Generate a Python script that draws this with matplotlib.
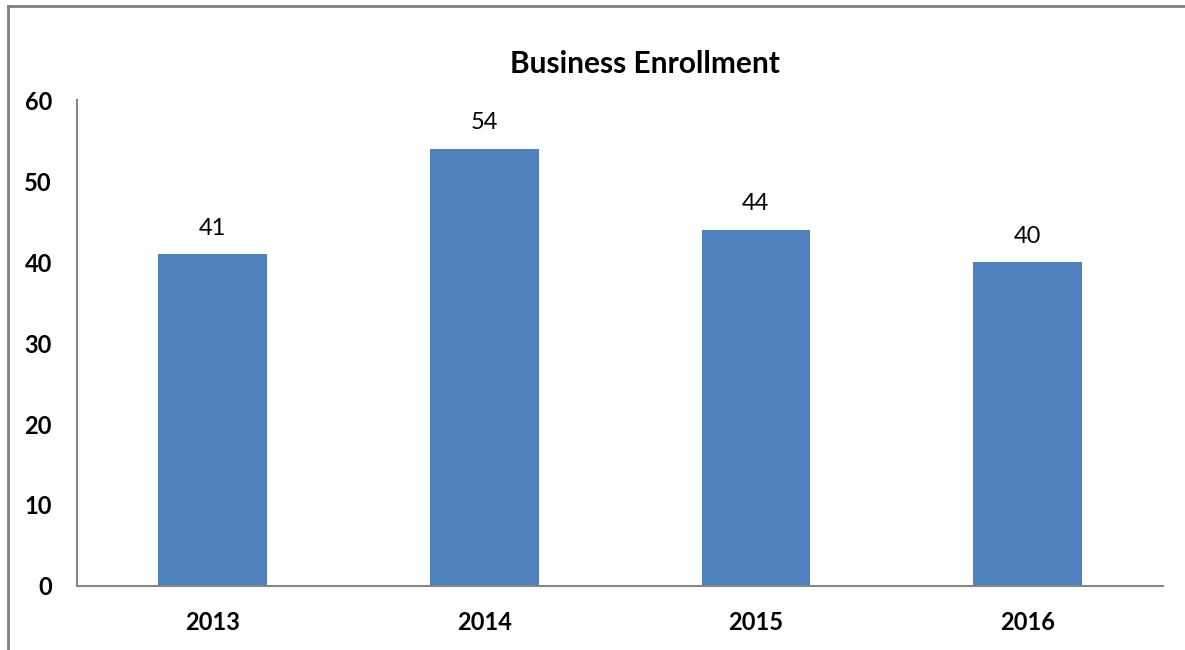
import matplotlib.pyplot as plt
from matplotlib.lines import Line2D

years = ['2013', '2014', '2015', '2016']
enrollment = [41, 54, 44, 40]
y_ticks = [0, 10, 20, 30, 40, 50, 60]

plt.rcParams['font.family'] = ['Lato', 'DejaVu Sans']

fig = plt.figure(figsize=(11.85, 6.5), dpi=100)
ax = fig.add_axes([0.065, 0.0985, 0.9165, 0.7475])

bars = ax.bar(range(len(years)), enrollment, width=0.4, color='#4F81BD')
ax.set_xlim(-0.5, len(years) - 0.5)
ax.set_ylim(0, 60)
ax.set_xticks(range(len(years)))
ax.set_xticklabels(years, fontsize=17, fontweight='bold')
ax.set_yticks(y_ticks)
ax.set_yticklabels([str(t) for t in y_ticks], fontsize=17, fontweight='bold')
ax.tick_params(axis='both', length=0)
ax.tick_params(axis='y', pad=18)
ax.tick_params(axis='x', pad=18)

for s in ['top', 'right']:
    ax.spines[s].set_visible(False)
for s in ['left', 'bottom']:
    ax.spines[s].set_color('#868686')
    ax.spines[s].set_linewidth(1.5)

for b, v in zip(bars, enrollment):
    ax.annotate(str(v), (b.get_x() + b.get_width() / 2, v), xytext=(0, 11),
                textcoords='offset points', ha='center', va='bottom', fontsize=17)

fig.text(0.544, 0.901, 'Business Enrollment', ha='center', va='center',
         fontsize=21.5, fontweight='bold')

# outer frame (top and left edges only)
fig.add_artist(Line2D([0.0068, 1.0], [0.9905, 0.9905], color='#7F7F7F', linewidth=2))
fig.add_artist(Line2D([0.0068, 0.0068], [0.0, 0.9905], color='#7F7F7F', linewidth=2))

fig.savefig('out.png', dpi=100)
